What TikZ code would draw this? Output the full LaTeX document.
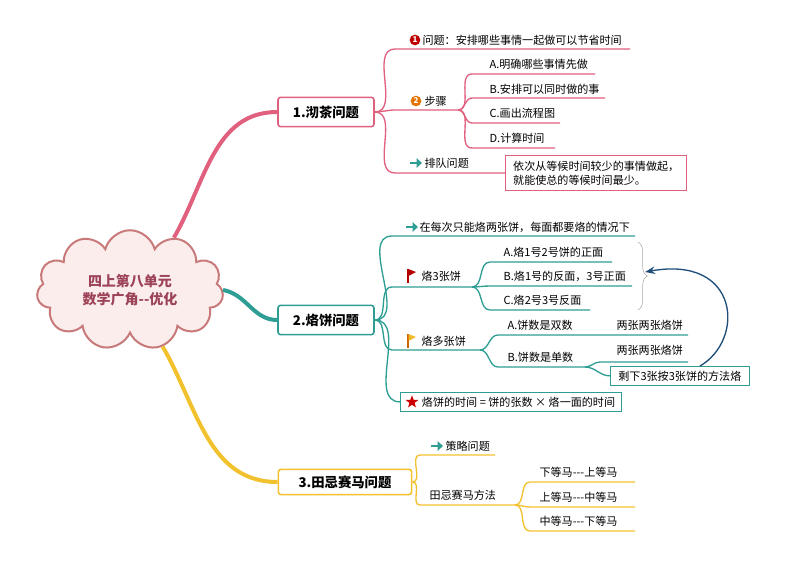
\documentclass[tikz,border=0pt]{standalone}
\usepackage{fontspec}
\setmainfont{Noto Sans CJK SC}
\usetikzlibrary{shapes.symbols,shapes.geometric,decorations.pathreplacing,arrows.meta}
\definecolor{pinkc}{HTML}{E0607E}
\definecolor{tealc}{HTML}{2E9E94}
\definecolor{yelc}{HTML}{F2C12E}
\definecolor{cloudfill}{HTML}{FAEDEB}
\definecolor{cloudline}{HTML}{C87A7A}
\definecolor{darkblue}{HTML}{1F4E79}
\tikzset{
  topic/.style={draw=#1, line width=1.2pt, rounded corners=2pt, fill=white,
    font=\bfseries\fontsize{10}{12}\selectfont, inner sep=0pt},
  item/.style={font=\fontsize{8.3}{10}\selectfont, anchor=west, inner sep=1pt},
  br/.style={draw=#1, line width=1pt},
  note/.style={draw=#1, line width=0.8pt, fill=white, font=\fontsize{8.3}{10.5}\selectfont,
    align=left, inner sep=2pt},
}
\newcommand{\brch}[5]{% colour, from, x1, y, x2
  \draw[br=#1] (#2) to[out=0,in=180] (#3,#4) -- (#5,#4);}
\newcommand{\arrmark}[2]{%
  \draw[-{Triangle[length=4pt,width=7pt]}, tealc, line width=2pt] (#1-6,#2) -- (#1+6,#2);}
\begin{document}
\begin{tikzpicture}[x=0.75pt,y=-0.75pt, >=Stealth]
\useasboundingbox (0,0) rectangle (794,561);

% 中心
\node[cloud, cloud puffs=11, aspect=1.6, minimum width=140pt, minimum height=84pt,
  fill=cloudfill, draw=cloudline, line width=1.5pt, text=pinkc!70!black,
  font=\bfseries\fontsize{10.5}{13.5}\selectfont, align=center] (center) at (130,290)
  {四上第八单元\\数学广角{-}{-}优化};

% 主题
\node[topic=pinkc, minimum width=72pt, minimum height=22pt] (t1) at (326,112) {1.沏茶问题};
\node[topic=tealc, minimum width=72pt, minimum height=22pt] (t2) at (326,320) {2.烙饼问题};
\node[topic=yelc, minimum width=100pt, minimum height=19pt] (t3) at (345,482) {3.田忌赛马问题};

\draw[pinkc, line width=3pt] (center.50) to[out=60,in=180] (t1.west);
\draw[tealc, line width=3pt] (center.east) to[out=-10,in=180] (t2.west);
\draw[yelc, line width=3pt] (center.-60) to[out=-60,in=180] (t3.west);

% 1.沏茶问题
\coordinate (t1e) at (t1.east);
\brch{pinkc}{t1e}{395}{49}{630}
\node[circle, fill=red!75!black, text=white, inner sep=0pt, minimum size=8pt,
  font=\bfseries\fontsize{6}{6}\selectfont] (n1) at (415,40) {1};
\node[item] (q1) at (421,40) {问题：安排哪些事情一起做可以节省时间};
\brch{pinkc}{t1e}{395}{110}{458}
\node[circle, fill=orange!90!black, text=white, inner sep=0pt, minimum size=8pt,
  font=\bfseries\fontsize{6}{6}\selectfont] (n2) at (416,101) {2};
\node[item] (bz) at (423,101) {步骤};
\coordinate (bze) at (458,110);
\brch{pinkc}{bze}{472}{74}{595}
\node[item] (a1) at (488,64) {A.明确哪些事情先做};
\brch{pinkc}{bze}{472}{98}{605}
\node[item] (b1) at (488,89) {B.安排可以同时做的事};
\brch{pinkc}{bze}{472}{123}{560}
\node[item] (c1) at (488,113) {C.画出流程图};
\brch{pinkc}{bze}{472}{148}{555}
\node[item] (d1) at (488,138) {D.计算时间};
\brch{pinkc}{t1e}{395}{173}{505}
\arrmark{416}{163}
\node[item] (pd) at (423,163) {排队问题};
\node[note=pinkc, minimum width=136pt, minimum height=26pt, anchor=north west] (bx1) at (505,155)
  {依次从等候时间较少的事情做起，\\就能使总的等候时间最少。};

% 2.烙饼问题
\coordinate (t2e) at (t2.east);
\brch{tealc}{t2e}{392}{236}{635}
\arrmark{412}{227}
\node[item] (zm) at (418,227) {在每次只能烙两张饼，每面都要烙的情况下};
\brch{tealc}{t2e}{392}{287}{472}
\fill[red!70!black] (407,269) rectangle (408.5,283);
\fill[red!70!black] (408.5,269) -- (416,272) -- (408.5,276) -- cycle;
\node[item] (l3) at (420,276) {烙3张饼};
\coordinate (l3e) at (472,287);
\brch{tealc}{l3e}{490}{262}{612}
\node[item] (a2) at (502,252) {A.烙1号2号饼的正面};
\brch{tealc}{l3e}{490}{286}{632}
\node[item] (b2) at (502,276) {B.烙1号的反面，3号正面};
\brch{tealc}{l3e}{490}{310}{590}
\node[item] (c2) at (502,300) {C.烙2号3号反面};
\draw[gray!70, decorate, decoration={brace, amplitude=7pt}] (638,242) -- (638,310);
\brch{tealc}{t2e}{392}{350}{480}
\fill[orange!80!black] (407,334) rectangle (408.5,348);
\fill[yelc!90!orange] (408.5,334) -- (416,337) -- (408.5,341) -- cycle;
\node[item] (ld) at (420,341) {烙多张饼};
\coordinate (lde) at (480,350);
\brch{tealc}{lde}{498}{335}{688}
\node[item] (a3) at (506,325) {A.饼数是双数};
\node[item] (a3r) at (615,325) {两张两张烙饼};
\brch{tealc}{lde}{498}{367}{585}
\node[item] (b3) at (506,357) {B.饼数是单数};
\coordinate (b3e) at (585,367);
\brch{tealc}{b3e}{600}{362}{688}
\node[item] (b3r) at (615,350) {两张两张烙饼};
\node[note=tealc, minimum width=104pt, minimum height=14pt, anchor=north west] (bx2) at (610,366)
  {剩下3张按3张饼的方法烙};
\draw[br=tealc] (b3e) to[out=0,in=180] (bx2.west);
\coordinate (cs) at (700,366);
\draw[->, darkblue, line width=1pt] (cs) .. controls (745,340) and (740,255) .. (645,272);
\node[note=tealc, minimum width=166pt, minimum height=14pt, anchor=north west] (bx3) at (400,392)
  {\hspace{11pt}烙饼的时间 = 饼的张数 × 烙一面的时间};
\node[star, star points=5, star point ratio=2.4, fill=red!80!black, inner sep=0pt,
  minimum size=10pt] (st) at (412,402) {};
\draw[br=tealc] (t2e) to[out=0,in=180] (bx3.west);

% 3.田忌赛马问题
\coordinate (t3e) at (t3.east);
\brch{yelc}{t3e}{420}{455}{495}
\arrmark{437}{446}
\node[item] (cl) at (444,446) {策略问题};
\brch{yelc}{t3e}{420}{505}{515}
\node[item] (ff) at (428,495) {田忌赛马方法};
\coordinate (ffe) at (515,505);
\brch{yelc}{ffe}{530}{482}{635}
\node[item] (h1) at (538,472) {下等马{-}{-}{-}上等马};
\brch{yelc}{ffe}{530}{507}{635}
\node[item] (h2) at (538,497) {上等马{-}{-}{-}中等马};
\brch{yelc}{ffe}{530}{531}{635}
\node[item] (h3) at (538,521) {中等马{-}{-}{-}下等马};
\end{tikzpicture}
\end{document}
